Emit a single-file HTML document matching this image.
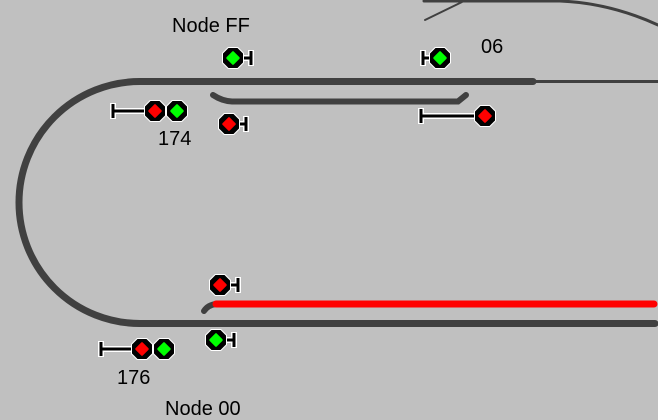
<!DOCTYPE html>
<html><head><style>
html,body{margin:0;padding:0;background:#c0c0c0;}
svg{display:block;}
text{font-family:"Liberation Sans",sans-serif;font-size:20px;fill:#000;}
</style></head><body>
<svg width="658" height="420" viewBox="0 0 658 420" xmlns="http://www.w3.org/2000/svg">
<defs>
<g id="lampG"><polygon points="-5,-11 5,-11 11,-5 11,5 5,11 -5,11 -11,5 -11,-5" fill="#fff"/><polygon points="-4.5,-10 4.5,-10 10,-4.5 10,4.5 4.5,10 -4.5,10 -10,4.5 -10,-4.5" fill="#000"/><polygon points="0,-5.5 5.5,0 0,5.5 -5.5,0" fill="#00ff00" stroke="#00ff00" stroke-width="2.5" stroke-linejoin="round"/></g>
<g id="lampR"><polygon points="-5,-11 5,-11 11,-5 11,5 5,11 -5,11 -11,5 -11,-5" fill="#fff"/><polygon points="-4.5,-10 4.5,-10 10,-4.5 10,4.5 4.5,10 -4.5,10 -10,4.5 -10,-4.5" fill="#000"/><polygon points="0,-5.5 5.5,0 0,5.5 -5.5,0" fill="#ff0000" stroke="#ff0000" stroke-width="2.5" stroke-linejoin="round"/></g>
</defs>
<g fill="none" stroke="#404040" stroke-linecap="round">
<path d="M140,81.5 A121,121 0 0 0 140,323.5" stroke-width="7"/>
<path d="M140,81.5 L533,81.5" stroke-width="7"/>
<path d="M533,81.5 L658,81.5" stroke-width="3"/>
<path d="M140,323.5 L655,323.5" stroke-width="7"/>
<path d="M213,95 Q222,101 232,101.5 L458,101.5 L466,95" stroke-width="6"/>
<path d="M204,311 Q208,305 216,304" stroke-width="6"/>
<path d="M424,1 L560,1 Q610,3 658,25" stroke-width="3"/>
<path d="M425,20 L462,2" stroke-width="2"/>
</g>
<line x1="216" y1="304" x2="654" y2="304" stroke="#ff0000" stroke-width="7" stroke-linecap="round"/>
<g stroke="#fff" stroke-width="6" fill="none">
<path d="M233,58 H251 M251,50 V66"/>
<path d="M440,58 H423 M423,50 V66"/>
<path d="M154,111 H113 M113,103 V119"/>
<path d="M229,124 H246 M246,116 V132"/>
<path d="M485,116 H421 M421,108 V124"/>
<path d="M220,285 H238 M238,277 V293"/>
<path d="M216,340 H234 M234,332 V348"/>
<path d="M142,349 H101 M101,341 V357"/>
</g>
<g stroke="#000" stroke-width="3" fill="none">
<path d="M233,58 H251 M251,51 V65"/>
<path d="M440,58 H423 M423,51 V65"/>
<path d="M154,111 H113 M113,104 V118"/>
<path d="M229,124 H246 M246,117 V131"/>
<path d="M485,116 H421 M421,109 V123"/>
<path d="M220,285 H238 M238,278 V292"/>
<path d="M216,340 H234 M234,333 V347"/>
<path d="M142,349 H101 M101,342 V356"/>
</g>
<use href="#lampG" x="233" y="58"/>
<use href="#lampG" x="440" y="58"/>
<use href="#lampR" x="155" y="111"/>
<use href="#lampG" x="177" y="111"/>
<use href="#lampR" x="229" y="124"/>
<use href="#lampR" x="485" y="116"/>
<use href="#lampR" x="220" y="285"/>
<use href="#lampG" x="216" y="340"/>
<use href="#lampR" x="142" y="349"/>
<use href="#lampG" x="164" y="349"/>
<text x="172" y="32">Node FF</text>
<text x="158" y="145">174</text>
<text x="481" y="53">06</text>
<text x="117" y="384">176</text>
<text x="165" y="415">Node 00</text>
</svg>
</body></html>
